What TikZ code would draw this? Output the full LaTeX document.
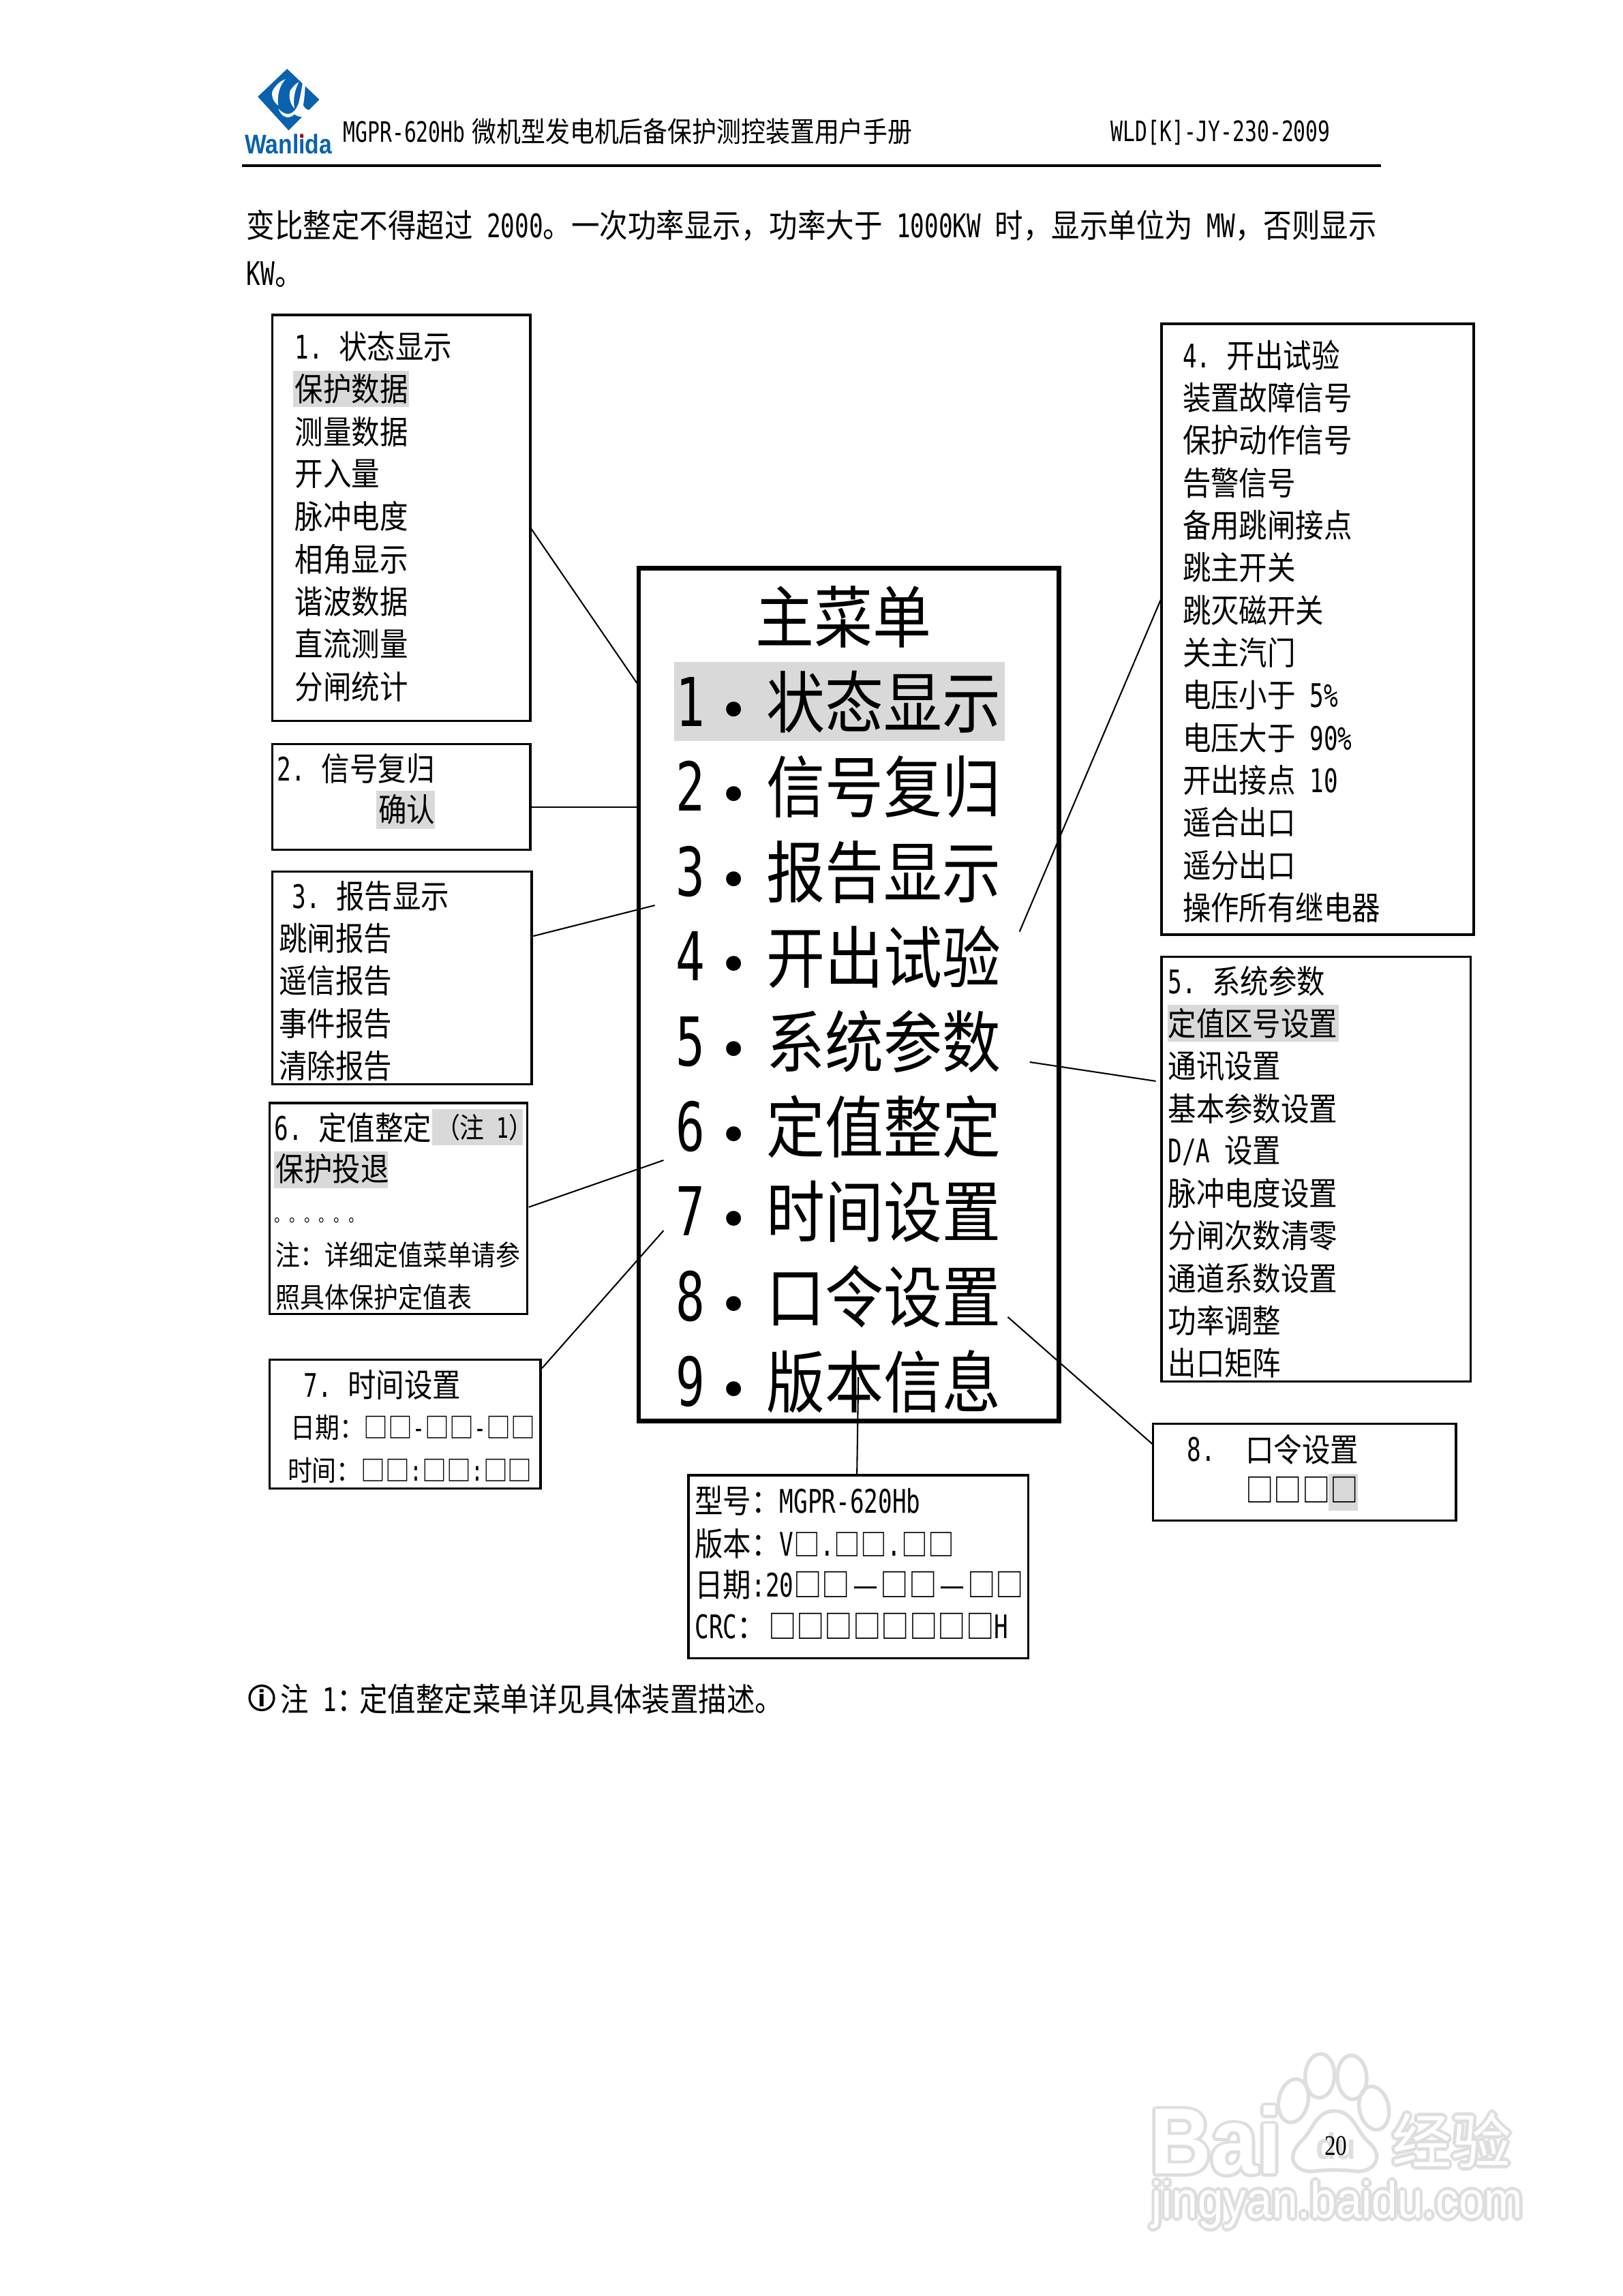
\documentclass[tikz,border=0pt]{standalone}
\usepackage{fontspec}
\usetikzlibrary{calc}
\setmainfont[FakeStretch=0.87]{Noto Sans CJK SC}
\newfontfamily\latf[FakeStretch=0.72]{DejaVu Sans Mono}
\newfontfamily\dvf{DejaVu Sans}
\newfontfamily\wmf[FakeStretch=0.9]{Liberation Sans}
\newfontfamily\logof[FakeStretch=0.85]{Liberation Sans}
\newfontfamily\wmc{Noto Sans CJK SC}
\newfontfamily\numf[FakeStretch=0.8]{Liberation Serif}
\newcommand\lt[1]{{\latf #1}}
\newcommand\fa{\fontsize{11.44pt}{12pt}\selectfont}
\newcommand\fb{\fontsize{9.48pt}{10pt}\selectfont}
\newcommand\fh{\fontsize{9.9pt}{10pt}\selectfont}
\newcommand\fm{\fontsize{23.7pt}{24pt}\selectfont}
\newcommand\sq[1]{{\fontsize{10.7pt}{11pt}\selectfont #1}}
\definecolor{hl}{HTML}{D9D9D9}
\definecolor{logob}{HTML}{0A62AE}
\definecolor{wmg}{HTML}{DEDEDE}
\tikzset{
 txt/.style={anchor=west,inner sep=0pt,font=\fa,execute at begin node={\rule[-.12em]{0pt}{.92em}}},
 small/.style={txt,font=\fb},
 head/.style={txt,font=\fh},
 big/.style={txt,font=\fm},
 dot/.style={inner sep=0pt,font=\dvf\fontsize{18pt}{18pt}\selectfont},
 box/.style={draw=black,line width=0.8pt,fill=none,inner sep=0pt,outer sep=0pt},
 mainbox/.style={draw=black,line width=1.6pt,inner sep=0pt,outer sep=0pt},
 link/.style={draw=black,line width=0.5pt},
 hlbg/.style={fill=hl,draw=none},
 wmb/.style={inner sep=0pt,text=wmg},
 wmt/.style={inner sep=0pt,text=white},
}
\newcommand\wmark[5]{% name x y font text
 \foreach \a in {0,45,...,315}{\node[wmb,font=#4] (#1bg\a) at ($(#2,#3)+(\a:2.2)$) {#5};}
 \node[wmt,font=#4] (#1) at (#2,#3) {#5};}
\begin{document}
\begin{tikzpicture}[x=0.5157pt,y=-0.5157pt]
\useasboundingbox (0,0) rectangle (1108,1567.3);
% watermark
\wmark{wa}{830}{1461}{\wmf\bfseries\fontsize{33pt}{34pt}\selectfont}{Bai}
\wmark{wb}{991}{1461}{\wmc\fontsize{21pt}{22pt}\selectfont}{经验}
\wmark{wc}{913}{1505}{\wmf\fontsize{18pt}{19pt}\selectfont}{jingyan.baidu.com}
\foreach \x/\y/\r in {883/1434/-12,901/1417/-3,923/1418/3,938/1439/12}{
 \draw[wmg,line width=1.3pt,rotate around={\r:(\x,\y)}] (\x,\y) ellipse (10 and 15);}
\draw[wmg,line width=1.3pt] (911,1441) .. controls (898,1441) and (896,1455) .. (888,1462) .. controls (876,1474) and (886,1484) .. (898,1482) .. controls (906,1481) and (916,1481) .. (924,1482) .. controls (938,1484) and (946,1472) .. (934,1462) .. controls (926,1455) and (924,1441) .. (911,1441) -- cycle;
\node[inner sep=0pt,text=wmg,font=\wmf\bfseries\fontsize{13pt}{14pt}\selectfont] (wd) at (912,1465) {du};
% logo
\fill[logob] (196,47) -- (218,68) -- (197,89) -- (176,66) -- cycle;
\fill[white] (186,62) .. controls (189,57) and (192,55) .. (195,54) .. controls (191,58) and (189,65) .. (190,72) .. controls (187,70) and (185,66) .. (186,62) -- cycle;
\fill[white] (198,62) .. controls (200,59) and (202,57) .. (204,56) .. controls (201,62) and (200,68) .. (201,74) .. controls (198,71) and (197,66) .. (198,62) -- cycle;
\fill[white] (190,74) .. controls (195,80) and (201,79) .. (204,70) .. controls (206,61) and (207,55) .. (208,46) .. controls (209,56) and (208,66) .. (207,72) .. controls (210,77) and (214,75) .. (215,73) .. controls (211,81) and (205,81) .. (201,78) .. controls (197,82) and (192,80) .. (190,74) -- cycle;
\node[inner sep=0pt,text=logob,font=\logof\bfseries\fontsize{9.5pt}{10pt}\selectfont] (logo) at (197,98.5) {Wanlida};
\fill[red!70!black] (206,93) circle (1.3);
% header
\node[head] (h1) at (234,90) {\lt{MGPR-620Hb}\hspace{0.5pt} 微机型发电机后备保护测控装置用户手册};
\node[head] (h2) at (758,90) {\lt{WLD[K]-JY-230-2009}};
\coordinate (hl1) at (165,113); \coordinate (hl2) at (943,113);
\draw[black,line width=0.8pt] (hl1) -- (hl2);
\node[txt] (p1) at (168,154) {变比整定不得超过\lt{ 2000}。一次功率显示，功率大于\lt{ 1000KW }时，显示单位为\lt{ MW}，否则显示};
\node[txt] (p2) at (168,187) {\lt{KW}。};
% highlights
\fill[hlbg] (200,253) rectangle (279,278);
\fill[hlbg] (257,540) rectangle (297,566);
\fill[hlbg] (295,757) rectangle (357,782);
\fill[hlbg] (187,786) rectangle (265,811);
\fill[hlbg] (460,452) rectangle (686,506);
\fill[hlbg] (797,686) rectangle (914,711);
\fill[hlbg] (907,1006) rectangle (927,1031);
% box 1
\node[box,minimum width=176*0.5157pt,minimum height=277*0.5157pt] (b1) at (274,353.5) {};
\foreach \t [count=\i] in {\lt{1. }\kern-1pt状态显示,保护数据,测量数据,开入量,脉冲电度,相角显示,谐波数据,直流测量,分闸统计}
 \node[txt] (b1t\i) at (201,{237+29*(\i-1)}) {\t};
% box 2
\node[box,minimum width=176*0.5157pt,minimum height=72*0.5157pt] (b2) at (274,544) {};
\node[txt] (b2t1) at (189,525) {\lt{2. }\kern-1pt信号复归};
\node[txt] (b2t2) at (258,553) {确认};
% box 3
\node[box,minimum width=177*0.5157pt,minimum height=145*0.5157pt] (b3) at (274.5,667.5) {};
\node[txt] (b3t0) at (199,612) {\lt{3. }\kern-1pt报告显示};
\foreach \t [count=\i] in {跳闸报告,遥信报告,事件报告,清除报告}
 \node[txt] (b3t\i) at (190,{612+29*\i}) {\t};
% box 6
\node[box,minimum width=176*0.5157pt,minimum height=144*0.5157pt] (b6) at (272,825) {};
\node[txt] (b6t1) at (187,770) {\lt{6. }\kern-1pt定值整定};
\node[head] (b6t2) at (297,770) {（注\lt{ 1}）};
\node[txt] (b6t3) at (188,798) {保护投退};
\node[small,font=\fontsize{6pt}{7pt}\selectfont] (b6t4) at (187,830) {。。。。。。};
\node[head] (b6t5) at (188,857) {注：详细定值菜单请参};
\node[head] (b6t6) at (188,886) {照具体保护定值表};
% box 7
\node[box,minimum width=185*0.5157pt,minimum height=88*0.5157pt] (b7) at (276.5,972) {};
\node[txt] (b7t1) at (207,946) {\lt{7. }\kern-1pt时间设置};
\node[head] (b7t2) at (198,975) {日期：□□\lt{-}□□\lt{-}□□};
\node[head] (b7t3) at (196,1004) {时间：□□\lt{:}□□\lt{:}□□};
% main menu
\node[mainbox,minimum width=287*0.5157pt,minimum height=582*0.5157pt] (m) at (579.5,679) {};
\node[big] (mt) at (515.5,422) {主菜单};
\foreach \t [count=\i] in {状态显示,信号复归,报告显示,开出试验,系统参数,定值整定,时间设置,口令设置,版本信息}{
 \node[big] (mn\i) at (461,{480+58*(\i-1)}) {\lt{\i}};
 \node[dot] (mb\i) at (501,{488+58*(\i-1)}) {•};
 \node[big] (mx\i) at (523,{480+58*(\i-1)}) {\t};
}
% box 4
\node[box,minimum width=213*0.5157pt,minimum height=417*0.5157pt] (b4) at (899.5,429.5) {};
\foreach \t [count=\i] in {\lt{4. }\kern-1pt开出试验,装置故障信号,保护动作信号,告警信号,备用跳闸接点,跳主开关,跳灭磁开关,关主汽门,电压小于\lt{ 5\%},电压大于\lt{ 90\%},开出接点\lt{ 10},遥合出口,遥分出口,操作所有继电器}
 \node[txt] (b4t\i) at (807,{243+29*(\i-1)}) {\t};
% box 5
\node[box,minimum width=211*0.5157pt,minimum height=290*0.5157pt] (b5) at (898.5,798) {};
\foreach \t [count=\i] in {\lt{5. }\kern-1pt系统参数,定值区号设置,通讯设置,基本参数设置,\lt{D/A }设置,脉冲电度设置,分闸次数清零,通道系数设置,功率调整,出口矩阵}
 \node[txt] (b5t\i) at (797,{670+29*(\i-1)}) {\t};
% box 8
\node[box,minimum width=207*0.5157pt,minimum height=66*0.5157pt] (b8) at (890.5,1005) {};
\node[txt] (b8t1) at (810,990) {\lt{8.}};
\node[txt] (b8t2) at (850,990) {口令设置};
\node[txt] (b8t3) at (850,1018) {□□□□};
% box 9
\node[box,minimum width=232*0.5157pt,minimum height=125*0.5157pt] (b9) at (586,1069.5) {};
\node[txt] (b9t1) at (474,1025) {型号：\lt{MGPR-620Hb}};
\node[txt] (b9t2) at (474,1054) {版本：\lt{V}\sq{□}\lt{.}\sq{□□}\lt{.}\sq{□□}};
\node[txt] (b9t3) at (474,1082) {日期\lt{:20}□□\kern.9pt—\kern.9pt□□\kern.9pt—\kern.9pt□□};
\node[txt] (b9t4) at (474,1111) {\lt{CRC}：\kern1pt□□□□□□□□\lt{H}};
% note and page number
\node[circle,draw=black,line width=0.8pt,inner sep=0pt,minimum size=8.6pt,font=\dvf\bfseries\fontsize{8pt}{8pt}\selectfont] (ni) at (178.7,1159) {i};
\node[txt] (n1) at (191,1160) {注\lt{ 1}：\kern-2pt定值整定菜单详见具体装置描述。};
\node[inner sep=0pt,font=\numf\fontsize{10pt}{11pt}\selectfont] (pg) at (912,1465) {20};
% connectors
\coordinate (c1a) at (362,360); \coordinate (c1b) at (436,468);
\coordinate (c2a) at (362,551); \coordinate (c2b) at (436,551);
\coordinate (c3a) at (364,639); \coordinate (c3b) at (447,618);
\coordinate (c6a) at (361,824); \coordinate (c6b) at (453,792);
\coordinate (c7a) at (370,934); \coordinate (c7b) at (453,840);
\coordinate (c4a) at (696,636); \coordinate (c4b) at (793,408);
\coordinate (c5a) at (703,725); \coordinate (c5b) at (789,738);
\coordinate (c8a) at (688,899); \coordinate (c8b) at (787,986);
\coordinate (c9a) at (586,940); \coordinate (c9b) at (585,1007);
\foreach \n in {1,...,9}{\draw[link] (c\n a) -- (c\n b);}
\end{tikzpicture}
\end{document}
